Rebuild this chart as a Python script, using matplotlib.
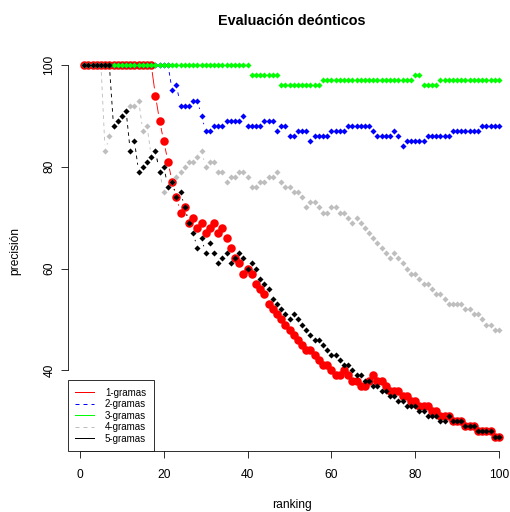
import numpy as np
import matplotlib
matplotlib.use("Agg")
import matplotlib.pyplot as plt
from matplotlib.collections import LineCollection
from matplotlib.lines import Line2D

plt.rcParams['font.family'] = ['Liberation Sans', 'DejaVu Sans']

# posiciones del ranking (1..100)
ranking = np.arange(1, 101)

p_1gramas = [
    100, 100, 100, 100, 100, 100, 100, 100, 100, 100,
    100, 100, 100, 100, 100, 100, 100, 94, 89, 85,
    81, 77, 74, 71, 72, 69, 70, 68, 69, 67,
    68, 69, 67, 68, 66, 64, 62, 61, 59, 60,
    59, 57, 56, 55, 53, 52, 51, 50, 49, 48,
    47, 46, 45, 44, 44, 43, 42, 41, 41, 40,
    39, 39, 40, 39, 38, 38, 37, 37, 38, 39,
    38, 38, 37, 36, 36, 36, 35, 35, 34, 34,
    33, 33, 33, 32, 32, 31, 31, 31, 30, 30,
    30, 29, 29, 29, 28, 28, 28, 28, 27, 27,
]
p_2gramas = [
    100, 100, 100, 100, 100, 100, 100, 100, 100, 100,
    100, 100, 100, 100, 100, 100, 100, 100, 100, 100,
    100, 95, 96, 92, 92, 92, 93, 93, 90, 87,
    87, 88, 88, 88, 89, 89, 89, 89, 90, 88,
    88, 88, 88, 89, 89, 89, 87, 88, 88, 86,
    86, 87, 87, 87, 85, 86, 86, 86, 86, 87,
    87, 87, 87, 88, 88, 88, 88, 88, 88, 87,
    86, 86, 86, 86, 87, 86, 84, 85, 85, 85,
    85, 85, 86, 86, 86, 86, 86, 86, 87, 87,
    87, 87, 87, 87, 87, 88, 88, 88, 88, 88,
]
p_3gramas = [
    100, 100, 100, 100, 100, 100, 100, 100, 100, 100,
    100, 100, 100, 100, 100, 100, 100, 100, 100, 100,
    100, 100, 100, 100, 100, 100, 100, 100, 100, 100,
    100, 100, 100, 100, 100, 100, 100, 100, 100, 100,
    98, 98, 98, 98, 98, 98, 98, 96, 96, 96,
    96, 96, 96, 96, 96, 96, 96, 97, 97, 97,
    97, 97, 97, 97, 97, 97, 97, 97, 97, 97,
    97, 97, 97, 97, 97, 97, 97, 97, 97, 98,
    98, 96, 96, 96, 96, 97, 97, 97, 97, 97,
    97, 97, 97, 97, 97, 97, 97, 97, 97, 97,
]
p_4gramas = [
    100, 100, 100, 100, 100, 83, 86, 88, 89, 90,
    91, 92, 92, 93, 87, 88, 82, 83, 79, 75,
    76, 77, 78, 79, 80, 81, 81, 82, 83, 80,
    81, 81, 79, 79, 77, 78, 78, 79, 79, 78,
    76, 76, 77, 77, 78, 78, 79, 77, 76, 76,
    75, 75, 74, 72, 73, 73, 72, 71, 71, 72,
    72, 71, 71, 70, 69, 70, 69, 68, 67, 66,
    65, 64, 63, 62, 63, 62, 61, 60, 59, 59,
    58, 57, 57, 56, 55, 55, 54, 53, 53, 53,
    53, 52, 52, 51, 51, 50, 49, 49, 48, 48,
]
p_5gramas = [
    100, 100, 100, 100, 100, 100, 100, 88, 89, 90,
    91, 83, 85, 79, 80, 81, 82, 83, 79, 80,
    76, 77, 74, 75, 72, 69, 67, 64, 66, 63,
    65, 63, 61, 62, 63, 61, 62, 63, 62, 60,
    61, 60, 58, 57, 56, 54, 53, 52, 51, 50,
    51, 50, 49, 48, 47, 46, 46, 45, 44, 43,
    43, 42, 41, 41, 40, 39, 39, 38, 38, 37,
    37, 36, 36, 35, 35, 34, 34, 33, 33, 33,
    32, 32, 31, 31, 31, 30, 30, 31, 30, 30,
    30, 29, 29, 29, 28, 28, 28, 28, 27, 27,
]

etiquetas = ["1-gramas", "2-gramas", "3-gramas", "4-gramas", "5-gramas"]
series = [p_1gramas, p_2gramas, p_3gramas, p_4gramas, p_5gramas]
colores = ["#FF0000", "#0000FF", "#00FF00", "#BEBEBE", "#000000"]
estilos = ["solid", (0, (4, 4)), "solid", (0, (4, 4)), (0, (4, 4))]
estilos_leyenda = ["solid", (0, (4, 4)), "solid", (0, (4, 4)), "solid"]
marcas = ["o", "D", "D", "D", "D"]
tam_marcas = [8.5, 4.3, 4.3, 4.3, 4.3]

W, H, DPI = 510, 512, 72
fig = plt.figure(figsize=(W / DPI, H / DPI), dpi=DPI)
# región del gráfico en píxeles (como en R, recortada a la derecha)
x0, x1, y0, y1 = 67.6, 515.6, 50.1, 451.4
ax = fig.add_axes([x0 / W, 1 - y1 / H, (x1 - x0) / W, (y1 - y0) / H])
ax.set_xlim(-2.96, 103.96)
ax.set_ylim(24.08, 102.92)


def segmentos_b(ax, x, y, gap=7.2):
    """Segmentos con hueco alrededor de cada punto (type='b' de R)."""
    trans = ax.transData
    inv = trans.inverted()
    pts = trans.transform(np.column_stack([x, y]))
    segs = []
    for p, q in zip(pts[:-1], pts[1:]):
        d = q - p
        n = np.hypot(d[0], d[1])
        if n > 2 * gap:
            u = d / n
            segs.append(inv.transform(np.array([p + gap * u, q - gap * u])))
    return segs


for i, (vals, col) in enumerate(zip(series, colores)):
    segs = segmentos_b(ax, ranking, vals)
    lc = LineCollection(segs, colors=col, linewidths=0.9,
                        linestyles=[estilos[i]], zorder=2 + i)
    ax.add_collection(lc)
    ax.plot(ranking, vals, linestyle="none", marker=marcas[i],
            markersize=tam_marcas[i], markerfacecolor=col,
            markeredgewidth=0, zorder=2 + i)

# ejes estilo R
for lado in ["top", "right"]:
    ax.spines[lado].set_visible(False)
ax.spines["left"].set_bounds(40, 100)
ax.spines["bottom"].set_bounds(0, 100)
for lado in ["left", "bottom"]:
    ax.spines[lado].set_linewidth(0.8)
ax.set_xticks([0, 20, 40, 60, 80, 100])
ax.set_yticks([40, 60, 80, 100])
ax.tick_params(axis="both", length=7, width=0.8, labelsize=12)
ax.tick_params(axis="x", pad=11)
ax.tick_params(axis="y", pad=5)
for lab in ax.get_yticklabels():
    lab.set_rotation(90)
    lab.set_va("center")

ax.set_xlabel("ranking", fontsize=12, va="center")
ax.xaxis.set_label_coords(0.5, -(505 - y1) / (y1 - y0))
ax.set_ylabel("precisión", fontsize=12, va="center", ha="center")
ax.yaxis.set_label_coords(-(x0 - 15) / (x1 - x0), 0.5)

fig.text((x0 + x1) / 2 / W, 1 - 21 / H, "Evaluación deónticos",
         fontsize=14.4, fontweight="bold", ha="center", va="center")

# leyenda
handles = [Line2D([0], [0], color=c, lw=1, linestyle=s)
           for c, s in zip(colores, estilos_leyenda)]
leg = ax.legend(handles, etiquetas, loc="lower left", bbox_to_anchor=(0, 0),
                borderaxespad=0, fontsize=9.8, frameon=True, fancybox=False,
                edgecolor="black", framealpha=1, borderpad=0.8,
                handlelength=1.9, handletextpad=1.1, labelspacing=0.15)
leg.get_frame().set_linewidth(0.8)

fig.savefig("out.png", dpi=DPI)
